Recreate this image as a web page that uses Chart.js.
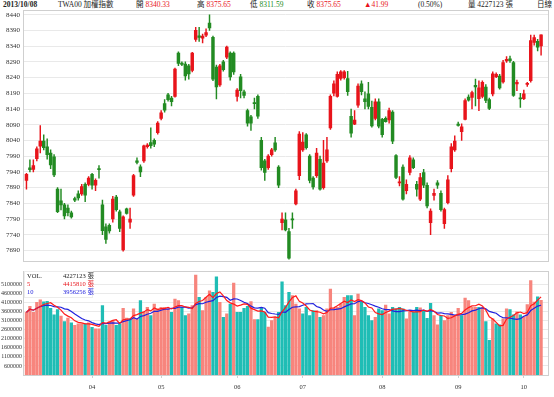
<!DOCTYPE html>
<html>
<head>
<meta charset="utf-8">
<script src="https://cdn.jsdelivr.net/npm/chart.js@4.4.0/dist/chart.umd.min.js"></script>
<style>
    body { margin: 0; background: #fff; width: 554px; height: 397px; overflow: hidden; position: relative;
           font-family: "Liberation Serif", "Noto Sans CJK TC", serif; color: #222; }
    #hdr span { position: absolute; top: 0; font-size: 7.5px; line-height: 10px; white-space: nowrap; }
    .r { color: #e8141b; }
    .g { color: #228b22; }
    .b { color: #2222dd; }
    i { font-style: normal; }
    canvas { position: absolute; left: 0; }
    #cPrice { top: 0; }
    #cVol { top: 266px; }
    #volLeg { position: absolute; left: 24px; top: 271px; width: 67px; height: 25px; background: #fff;
              border: 1px solid #ececec; font-size: 6.5px; line-height: 8px; white-space: nowrap; }
    #volLeg div { position: relative; height: 8px; }
    #volLeg .v { position: absolute; left: 38px; white-space: nowrap; }
    #volLeg .k { position: absolute; left: 2px; }
</style>
</head>
<body>
<div id="hdr">
    <span style="left:3px"><b>2013/10/08</b></span>
    <span style="left:58px">TWA00 加權指數</span>
    <span style="left:136px">開 <i class="r">8340.33</i></span>
    <span style="left:197px">高 <i class="r">8375.65</i></span>
    <span style="left:250px">低 <i class="g">8311.59</i></span>
    <span style="left:307px">收 <i class="r">8375.65</i></span>
    <span style="left:364px" class="r">▲41.99</span>
    <span style="left:418px">(0.50%)</span>
    <span style="left:468px">量 4227123 張</span>
    <span style="left:537px">日線</span>
</div>
<canvas id="cPrice" width="554" height="268"></canvas>
<canvas id="cVol" width="554" height="131"></canvas>
<div id="volLeg">
    <div><span class="k">VOL.</span><span class="v">4227123 張</span></div>
    <div class="r"><span class="k">5</span><span class="v">4415810 張</span></div>
    <div class="b"><span class="k">10</span><span class="v">3956256 張</span></div>
</div>
<script>
// daily candles, 2013/03 .. 2013/10/08
const opens = [
    7913,7953,7948,7982,8022,8038,8020,8000,7988,7885, 7848,7835,7825,7810,7855,7870,7870,7900,7900,7932,
    7898,7950,7835,7765,7770,7790,7860,7813,7692,7822, 7780,7866,7975,7956,7975,8020,8033,8040,8065,8110,
    8157,8185,8175,8180,8318,8286,8283,8277,8263,8361, 8373,8365,8375,8413,8368,8273,8217,8290,8305,8318,
    8318,8180,8242,8195,8135,8115,8160,8180,8040,7975, 7953,7995,8032,7955,7778,7787,7750,7790,7838,7928,
    8010,8058,7990,7920,7928,7980,7890,7975,8080,8190, 8180,8237,8240,8237,8117,8092,8152,8220,8172,8188,
    8145,8110,8163,8107,8110,8105,8130,7992,7905,7955, 7880,7938,7978,7900,7853,7938,7897,7778,7865,7905,
    7872,7775,7842,7950,8010,8092,8068,8107,8178,8177, 8215,8173,8180,8210,8170,8188,8243,8245,8226,8293,
    8300,8288,8220,8175,8173,8218,8230,8352,8355,8340.33
];
const highs = [
    7935,7978,7978,8020,8087,8058,8045,8010,7995,7890, 7885,7840,7835,7815,7860,7880,7900,7905,7925,7935,
    7918,7960,7850,7775,7775,7862,7865,7818,7800,7825, 7825,7932,7985,7962,8025,8030,8080,8045,8100,8135,
    8170,8190,8180,8270,8322,8290,8290,8282,8320,8400, 8400,8378,8395,8440,8372,8280,8282,8295,8340,8322,
    8322,8205,8250,8200,8140,8120,8175,8185,8050,7980, 7995,8015,8050,7960,7810,7810,7760,7810,7885,8068,
    8065,8062,7995,7925,8015,7990,8040,8050,8185,8230, 8258,8262,8262,8260,8140,8135,8220,8230,8195,8225,
    8165,8172,8172,8110,8115,8143,8135,7995,7925,7962, 7915,7992,7985,7910,7935,7948,7905,7822,7885,7912,
    7880,7825,7928,8030,8055,8098,8093,8172,8185,8197, 8235,8230,8230,8218,8175,8258,8255,8250,8295,8307,
    8308,8292,8232,8190,8200,8225,8375,8375,8362,8375.65
];
const lows = [
    7885,7940,7940,7975,8000,8010,7980,7950,7925,7810, 7819,7790,7800,7793,7845,7850,7865,7845,7895,7885,
    7880,7920,7740,7712,7745,7780,7815,7750,7688,7805, 7760,7862,7965,7925,7970,8015,8015,8020,8060,8105,
    8130,8165,8150,8178,8278,8278,8232,8235,8258,8355, 8355,8350,8370,8390,8230,8172,8212,8260,8300,8232,
    8250,8165,8175,8175,8085,8072,8140,8110,7945,7913, 7948,7990,8005,7890,7755,7752,7662,7760,7835,7915,
    8005,8012,7905,7885,7922,7882,7885,7970,8075,8182, 8178,8232,8235,8183,8050,8090,8145,8185,8140,8140,
    8082,8105,8080,8050,8098,8095,8030,7918,7895,7850, 7870,7930,7950,7863,7848,7890,7825,7740,7850,7887,
    7815,7760,7838,7940,8005,8085,8040,8105,8165,8140, 8150,8135,8175,8160,8138,8182,8240,8203,8222,8288,
    8288,8180,8198,8145,8170,8212,8225,8343,8325,8311.59
];
const closes = [
    7932,7947,7960,8013,8038,8017,7995,7962,7930,7813, 7835,7800,7810,7797,7850,7857,7893,7866,7920,7898,
    7913,7947,7753,7725,7752,7853,7820,7760,7797,7808, 7790,7928,7970,7940,8023,8025,8023,8028,8095,8128,
    8136,8170,8163,8267,8285,8282,8245,8252,8318,8390, 8368,8372,8383,8398,8235,8210,8277,8265,8337,8242,
    8258,8200,8198,8183,8095,8095,8157,8117,7953,7938, 7990,8010,8010,7898,7790,7755,7665,7787,7880,8060,
    8035,8017,7913,7892,8000,7885,7968,8010,8180,8220, 8250,8258,8258,8195,8063,8105,8213,8195,8163,8148,
    8086,8163,8085,8058,8100,8135,8038,7922,7908,7853, 7900,7985,7953,7885,7922,7898,7832,7815,7872,7898,
    7820,7820,7915,8020,8038,8088,8083,8167,8168,8192, 8210,8207,8225,8167,8142,8252,8250,8207,8288,8298,
    8294,8183,8225,8172,8188,8222,8358,8367,8337,8375.65
];
// volume, thousands of 張
const volK = [
    3570,3900,3570,4120,4250,4150,4170,3790,3420,3710, 3350,3050,3240,2980,2840,2930,2930,2930,2980,2740,
    2650,2650,3930,2840,3050,3110,2840,2930,3790,3240, 3202,3751,3202,4209,3568,3842,3385,4026,3751,3842,
    3842,3751,3568,4300,4209,3842,3385,3476,3934,5619, 4392,3659,4392,4758,4667,5527,4117,3293,3476,4026,
    5180,3568,3568,3788,3897,4154,3165,3165,3842,3568, 2744,3110,3293,3568,5253,3934,4667,4484,4026,3751,
    3476,3842,3385,3659,3659,3293,3385,3751,4850,3788, 3842,4026,4392,4484,4484,3385,4575,4117,3842,3385,
    3110,3293,3751,3659,3971,3476,3842,3751,3842,3751, 3202,3568,3568,3842,3806,3659,3238,4062,3385,2872,
    3385,3110,3385,3568,3385,3788,3385,4355,4209,3842, 3842,3842,3842,3055,2011,3202,2927,2872,3202,3751,
    3720,3420,3590,3420,3333,3990,5312,4130,4420,4227.123
];

const monthIdx = [19, 39, 61, 80, 103, 125, 144];
const monthLbl = ['04', '05', '06', '07', '08', '09', '10'];
const priceTicks = [7690,7740,7790,7840,7890,7940,7990,8040,8090,8140,8190,8240,8290,8340,8390,8440];
const volTicks = [600000,1100000,1600000,2100000,2600000,3100000,3600000,4100000,4600000,5100000];

const C = {
    up: '#e8141b', down: '#228b22',
    vUp: '#f7857d', vDown: '#1fbdb5',
    ma5: '#ff1a1a', ma10: '#2222dd',
    grid: '#e9e9e9', frame: '#cfcfcf', text: '#333',
};

Chart.defaults.font.family = "'Liberation Serif', serif";
Chart.defaults.font.size = 6;
Chart.defaults.color = C.text;
Chart.defaults.animation = false;
Chart.defaults.plugins.legend.display = false;
Chart.defaults.plugins.tooltip.enabled = false;

// candle colour: close vs open; volume colour: close vs previous close
const isUp = opens.map((o, i) => closes[i] >= o);
const volUp = closes.map((c, i) => i === 0 || c >= closes[i - 1]);
const vol = volK.map(v => Math.round(v * 1000));

function movingAvg(arr, n) {
    return arr.map((_, i) => {
        const s = arr.slice(Math.max(0, i - n + 1), i + 1);
        return s.reduce((a, b) => a + b, 0) / s.length;
    });
}

const frame = {
    id: 'frame',
    afterDraw(chart) {
        const { ctx, chartArea: a } = chart;
        ctx.save();
        ctx.strokeStyle = C.frame;
        ctx.lineWidth = 1;
        ctx.strokeRect(Math.round(a.left) + 0.5, Math.round(a.top) + 0.5, Math.round(a.width), Math.round(a.height));
        ctx.restore();
    }
};

const xRange = { type: 'linear', min: -1, max: 151, offset: false };

// ── price panel ──────────────────────────────────────────────
new Chart(document.getElementById('cPrice'), {
    type: 'bar',
    data: {
        datasets: [{
            data: opens.map((o, i) => ({ x: i, y: [o, closes[i]] })),
            backgroundColor: isUp.map(u => u ? C.up : C.down),
            barThickness: 2.8, minBarLength: 1, grouped: false, order: 0,
        }, {
            data: lows.map((l, i) => ({ x: i, y: [l, highs[i]] })),
            backgroundColor: isUp.map(u => u ? C.up : C.down),
            barThickness: 0.8, grouped: false, order: 1,
        }]
    },
    options: {
        responsive: false, devicePixelRatio: 1, events: [],
        layout: { padding: { top: 10, right: 6, bottom: 3, left: 0 } },
        scales: {
            x: { ...xRange, display: false },
            y: {
                min: 7657, max: 8455,
                afterBuildTicks: s => { s.ticks = priceTicks.map(v => ({ value: v })); },
                afterFit: s => { s.width = 23; },
                ticks: { callback: v => String(v), padding: 3, font: { size: 7 } },
                grid: { color: C.grid, drawTicks: false },
                border: { display: false },
            }
        }
    },
    plugins: [frame]
});

// ── volume panel ─────────────────────────────────────────────
new Chart(document.getElementById('cVol'), {
    type: 'bar',
    data: {
        datasets: [{
            type: 'line',
            data: movingAvg(vol, 5).map((v, i) => ({ x: i, y: v })),
            borderColor: C.ma5, borderWidth: 1.2, pointRadius: 0, order: 0,
        }, {
            type: 'line',
            data: movingAvg(vol, 10).map((v, i) => ({ x: i, y: v })),
            borderColor: C.ma10, borderWidth: 1.2, pointRadius: 0, order: 0,
        }, {
            data: vol.map((v, i) => ({ x: i, y: v })),
            backgroundColor: volUp.map(u => u ? C.vUp : C.vDown),
            barThickness: 2.6, grouped: false, order: 1,
        }]
    },
    options: {
        responsive: false, devicePixelRatio: 1, events: [],
        layout: { padding: { top: 4, right: 6, bottom: 0, left: 0 } },
        scales: {
            x: {
                ...xRange,
                afterBuildTicks: s => { s.ticks = monthIdx.map(v => ({ value: v })); },
                afterFit: s => { s.height = 22; },
                ticks: { callback: v => monthLbl[monthIdx.indexOf(v)] ?? '', padding: 5, maxRotation: 0, font: { size: 6.5 } },
                grid: { drawOnChartArea: false, tickLength: 3, color: C.frame, offset: false },
                border: { display: false },
            },
            y: {
                min: 100000, max: 5870000,
                afterBuildTicks: s => { s.ticks = volTicks.map(v => ({ value: v })); },
                afterFit: s => { s.width = 23; },
                ticks: { callback: v => String(v), padding: 1 },
                grid: { color: C.grid, drawTicks: false },
                border: { display: false },
            }
        }
    },
    plugins: [frame]
});
</script>
</body>
</html>
